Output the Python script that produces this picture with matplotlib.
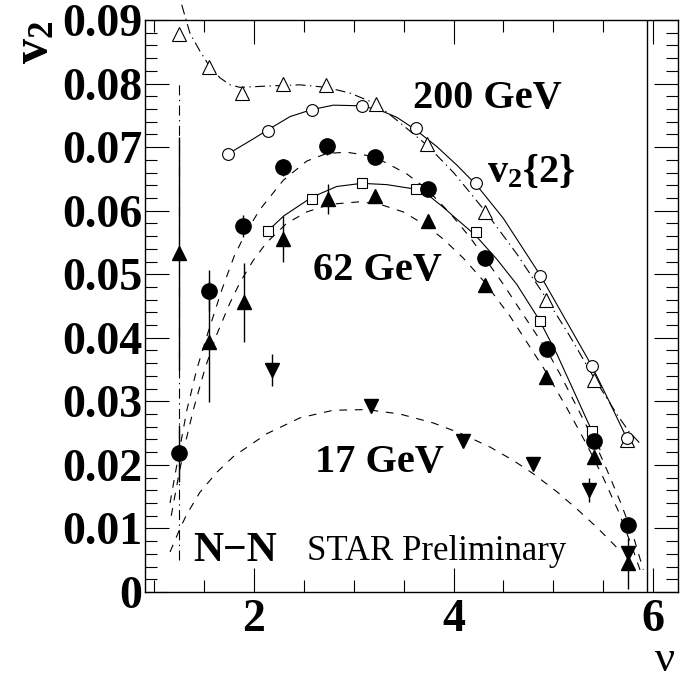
import matplotlib
matplotlib.use("Agg")
import matplotlib.pyplot as plt
from matplotlib.ticker import MultipleLocator, FuncFormatter

plt.rcParams['font.family'] = ['Liberation Serif', 'DejaVu Serif']
plt.rcParams['mathtext.fontset'] = 'custom'
plt.rcParams['mathtext.rm'] = 'Liberation Serif'
plt.rcParams['mathtext.bf'] = 'Liberation Serif:bold'
plt.rcParams['mathtext.default'] = 'bf'

# ---- data ----
# 200 GeV, v2{2} (open triangles, dash-dot fit)
x_otri = [1.248, 1.549, 1.883, 2.287, 2.721, 3.226, 3.734, 4.313, 4.930, 5.408, 5.742]
y_otri = [0.0878, 0.0826, 0.0785, 0.0800, 0.0798, 0.0768, 0.0705, 0.0598, 0.0459, 0.0334, 0.0239]
# 200 GeV (open circles, solid fit)
x_ocir = [1.736, 2.137, 2.578, 3.080, 3.627, 4.222, 4.870, 5.389, 5.742]
y_ocir = [0.0689, 0.0726, 0.0759, 0.0765, 0.0730, 0.0643, 0.0497, 0.0356, 0.0242]
# 200 GeV (filled circles, dashed fit)
x_fcir = [1.251, 1.549, 1.893, 2.293, 2.728, 3.216, 3.744, 4.313, 4.937, 5.408, 5.749]
y_fcir = [0.0218, 0.0474, 0.0576, 0.0668, 0.0701, 0.0685, 0.0634, 0.0525, 0.0382, 0.0237, 0.0105]
e_fcir = [0.0045, 0.0032, 0.0017, 0.0014, 0.0013, 0.0010, 0.0010, 0.0010, 0.0010, 0.0010, 0.0010]
# 62 GeV (open squares, solid fit)
x_osq = [2.137, 2.578, 3.080, 3.627, 4.222, 4.870, 5.389]
y_osq = [0.0568, 0.0618, 0.0644, 0.0634, 0.0567, 0.0427, 0.0254]
# 62 GeV (filled up triangles, dashed fit)
x_ftri = [1.251, 1.549, 1.903, 2.287, 2.737, 3.216, 3.744, 4.313, 4.924, 5.408, 5.749]
y_ftri = [0.0533, 0.0394, 0.0456, 0.0555, 0.0618, 0.0623, 0.0583, 0.0483, 0.0339, 0.0213, 0.0045]
e_ftri = [0.0183, 0.0095, 0.0062, 0.0036, 0.0024, 0.0010, 0.0010, 0.0010, 0.0010, 0.0010, 0.0040]
# 17 GeV (filled down triangles, dashed fit)
x_dtri = [2.177, 3.176, 4.097, 4.794, 5.358, 5.749]
y_dtri = [0.0349, 0.0293, 0.0237, 0.0202, 0.0161, 0.0061]
e_dtri = [0.0025, 0.0010, 0.0008, 0.0008, 0.0019, 0.0010]

# fit curves
fitA_x = [1.275, 1.358, 1.458, 1.542, 1.659, 1.760, 1.859, 2.127, 2.461, 2.728, 2.962, 3.226,
          3.450, 3.734, 4.000, 4.313, 4.634, 4.930, 5.168, 5.408, 5.636, 5.760, 5.887]
fitA_y = [0.0924, 0.0879, 0.0851, 0.0830, 0.0809, 0.0798, 0.0794, 0.0796, 0.0798, 0.0794, 0.0785, 0.0768,
          0.0740, 0.0703, 0.0660, 0.0600, 0.0532, 0.0462, 0.0402, 0.0337, 0.0280, 0.0252, 0.0231]
fitB_x = [1.736, 1.993, 2.137, 2.361, 2.578, 2.795, 3.079, 3.263, 3.430, 3.614, 3.831,
          4.031, 4.232, 4.499, 4.867, 5.385, 5.569, 5.736]
fitB_y = [0.0689, 0.0713, 0.0727, 0.0748, 0.0759, 0.0766, 0.0765, 0.0758, 0.0747, 0.0728, 0.0701,
          0.0672, 0.0640, 0.0588, 0.0499, 0.0356, 0.0297, 0.0242]
fitC_x = [1.158, 1.251, 1.325, 1.425, 1.542, 1.676, 1.800, 1.926, 2.060, 2.294, 2.528, 2.728,
          2.929, 3.206, 3.530, 3.731, 3.965, 4.165, 4.315, 4.500, 4.700, 4.937, 5.067, 5.234,
          5.408, 5.535, 5.669, 5.749, 5.802, 5.902]
fitC_y = [0.0140, 0.0222, 0.0285, 0.0350, 0.0410, 0.0475, 0.0528, 0.0568, 0.0602, 0.0648, 0.0678, 0.0690,
          0.0692, 0.0685, 0.0658, 0.0634, 0.0596, 0.0558, 0.0525, 0.0484, 0.0436, 0.0380, 0.0343, 0.0292,
          0.0238, 0.0193, 0.0143, 0.0110, 0.0088, 0.0035]
fitD_x = [2.137, 2.300, 2.578, 2.828, 3.079, 3.329, 3.614, 3.750, 3.900, 4.015, 4.215, 4.432,
          4.634, 4.860, 5.034, 5.200, 5.318, 5.389, 5.468]
fitD_y = [0.0568, 0.0592, 0.0621, 0.0638, 0.0643, 0.0641, 0.0634, 0.0624, 0.0605, 0.0589, 0.0562, 0.0524,
          0.0484, 0.0428, 0.0375, 0.0318, 0.0277, 0.0253, 0.0224]
fitE_x = [1.170, 1.250, 1.320, 1.392, 1.509, 1.626, 1.759, 1.859, 1.993, 2.127, 2.327, 2.528,
          2.762, 3.062, 3.263, 3.496, 3.731, 3.900, 4.100, 4.298, 4.566, 4.900, 5.134, 5.335,
          5.500, 5.650, 5.780, 5.880]
fitE_y = [0.0120, 0.0188, 0.0240, 0.0287, 0.0352, 0.0405, 0.0455, 0.0487, 0.0522, 0.0550, 0.0580, 0.0598,
          0.0610, 0.0614, 0.0610, 0.0598, 0.0576, 0.0555, 0.0525, 0.0490, 0.0434, 0.0353, 0.0290, 0.0232,
          0.0180, 0.0128, 0.0075, 0.0030]
fitF_x = [1.158, 1.258, 1.325, 1.458, 1.625, 1.792, 2.127, 2.461, 2.795, 3.129, 3.463, 3.797,
          4.065, 4.366, 4.599, 4.800, 5.034, 5.234, 5.435, 5.568, 5.686]
fitF_y = [0.0063, 0.0100, 0.0122, 0.0157, 0.0188, 0.0213, 0.0249, 0.0274, 0.0286, 0.0287, 0.0280, 0.0266,
          0.0250, 0.0228, 0.0207, 0.0186, 0.0158, 0.0131, 0.0102, 0.0081, 0.0062]

# vertical lines
vline_dd_x, vline_dd_y = [1.25, 1.25], [0.005, 0.080]
vline_s_x = 5.94

fig = plt.figure(figsize=(6.98, 6.83), dpi=100)
ax = fig.add_axes([145/698, 1-592/683, 533/698, 572/683])

lw = 0.8
dash = (0, (7, 7))
dashdot = (0, (9, 4, 1.2, 4))

ax.plot(fitA_x, fitA_y, color='k', lw=lw, ls=dashdot, clip_on=False)
ax.plot(fitB_x, fitB_y, color='k', lw=lw, ls='-')
ax.plot(fitC_x, fitC_y, color='k', lw=lw, ls=dash)
ax.plot(fitD_x, fitD_y, color='k', lw=lw, ls='-')
ax.plot(fitE_x, fitE_y, color='k', lw=lw, ls=dash)
ax.plot(fitF_x, fitF_y, color='k', lw=lw, ls=dash)
ax.plot(vline_dd_x, vline_dd_y, color='k', lw=lw, ls=dashdot)
ax.axvline(vline_s_x, color='k', lw=1.0)

ax.errorbar(x_fcir, y_fcir, yerr=e_fcir, fmt='none', ecolor='k', elinewidth=1.0, capsize=0)
ax.errorbar(x_ftri, y_ftri, yerr=e_ftri, fmt='none', ecolor='k', elinewidth=1.0, capsize=0)
ax.errorbar(x_dtri, y_dtri, yerr=e_dtri, fmt='none', ecolor='k', elinewidth=1.0, capsize=0)

ax.plot(x_otri, y_otri, ls='none', marker='^', ms=9.5, mfc='white', mec='k', mew=0.8, clip_on=False)
ax.plot(x_ocir, y_ocir, ls='none', marker='o', ms=8.5, mfc='white', mec='k', mew=0.8)
ax.plot(x_osq, y_osq, ls='none', marker='s', ms=7.5, mfc='white', mec='k', mew=0.8)
ax.plot(x_fcir, y_fcir, ls='none', marker='o', ms=11, color='k')
ax.plot(x_ftri, y_ftri, ls='none', marker='^', ms=10.5, color='k')
ax.plot(x_dtri, y_dtri, ls='none', marker='v', ms=10.5, color='k')

ax.set_xlim(0.907, 6.25)
ax.set_ylim(0, 0.09)
ax.xaxis.set_major_locator(MultipleLocator(2))
ax.xaxis.set_minor_locator(MultipleLocator(0.5))
ax.yaxis.set_major_locator(MultipleLocator(0.01))
ax.yaxis.set_minor_locator(MultipleLocator(0.002))
ax.yaxis.set_major_formatter(FuncFormatter(lambda v, p: '0' if abs(v) < 1e-9 else f'{v:.2f}'))
ax.xaxis.set_major_formatter(FuncFormatter(lambda v, p: f'{v:.0f}'))
ax.tick_params(which='both', direction='in', top=True, right=True, width=0.8)
ax.tick_params(which='major', length=17)
ax.tick_params(which='minor', length=8.5)
ax.tick_params(axis='y', which='major', pad=2)
ax.tick_params(axis='x', which='major', pad=5)
for lab in ax.get_xticklabels() + ax.get_yticklabels():
    lab.set_fontsize(33)
    lab.set_fontweight('bold')
for s in ax.spines.values():
    s.set_linewidth(1.0)

ax.text(3.594, 0.0761, '200 GeV', fontsize=29, fontweight='bold', ha='left', va='baseline')
ax.text(4.336, 0.0645, r'v$_2${2}', fontsize=29, fontweight='bold', ha='left', va='baseline')
ax.text(2.591, 0.0491, '62 GeV', fontsize=29, fontweight='bold', ha='left', va='baseline')
ax.text(2.611, 0.0189, '17 GeV', fontsize=29, fontweight='bold', ha='left', va='baseline')
ax.text(1.388, 0.0048, 'N\u2212N', fontsize=30, fontweight='bold', ha='left', va='baseline')
ax.text(2.528, 0.0050, 'STAR Preliminary', fontsize=25, ha='left', va='baseline')

fig.text(35/698, 1-42/683, r'v$_2$', fontsize=36, fontweight='bold', rotation=90,
         ha='center', va='center')
fig.text(665/698, 1-671/683, '\u03bd', fontsize=32, ha='center', va='baseline')

fig.savefig('out.png', dpi=100)
